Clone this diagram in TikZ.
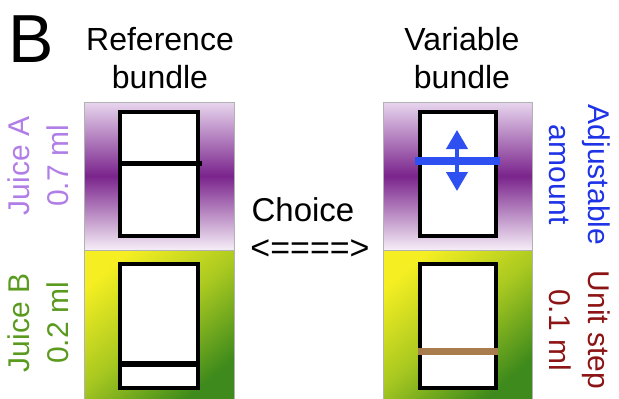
\documentclass[tikz,border=0pt]{standalone}
\usepackage{fontspec}
\setmainfont{Liberation Sans}
\usetikzlibrary{arrows.meta}
\definecolor{purpTop}{HTML}{E8D6EE}
\definecolor{purpMid}{HTML}{7A248C}
\definecolor{purpBot}{HTML}{F6EEF8}
\definecolor{grnTop}{HTML}{F4EE22}
\definecolor{grnMid}{HTML}{A8C820}
\definecolor{grnBot}{HTML}{3E8A1C}
\definecolor{juiceA}{HTML}{B07EE6}
\definecolor{juiceB}{HTML}{5A9A1E}
\definecolor{adjblue}{HTML}{1E32E6}
\definecolor{stepred}{HTML}{8C1414}
\definecolor{linblue}{HTML}{2F50F0}
\definecolor{brownline}{HTML}{A87C4C}
\begin{document}
\begin{tikzpicture}[x=1pt,y=-1pt,
  lbl/.style={inner sep=0pt, align=center, font=\fontsize{32}{38}\selectfont},
  side/.style={inner sep=0pt, align=center, font=\fontsize{30}{39}\selectfont},
  box/.style={draw=black, line width=4pt, fill=white, inner sep=0pt},
  panelframe/.style={draw=gray!60, line width=0.8pt},
  level/.style={line width=5pt, draw=black}]
\useasboundingbox (0,0) rectangle (619,399);
% panels
\path[top color=purpTop, bottom color=purpBot, middle color=purpMid] (84,102) rectangle (234,250);
\path[top color=grnTop, bottom color=grnBot, middle color=grnMid, shading angle=40] (84,250) rectangle (234,399);
\path[top color=purpTop, bottom color=purpBot, middle color=purpMid] (383,102) rectangle (532,250);
\path[top color=grnTop, bottom color=grnBot, middle color=grnMid, shading angle=40] (383,250) rectangle (532,399);
\draw[panelframe] (84,399) -- (84,102) -- (234,102) -- (234,399);
\draw[panelframe] (84,250) -- (234,250);
\draw[panelframe] (383,399) -- (383,102) -- (532,102) -- (532,399);
\draw[panelframe] (383,250) -- (532,250);
% boxes
\node[box, minimum width=78pt, minimum height=124pt] (ra) at (159,174) {};
\node[box, minimum width=78pt, minimum height=124pt] (rb) at (159,326) {};
\node[box, minimum width=76pt, minimum height=124pt] (va) at (458,174) {};
\node[box, minimum width=76pt, minimum height=124pt] (vb) at (458,326) {};
% levels
\draw[level] (ra.west |- 0,163) -- ([xshift=2pt]ra.east |- 0,163);
\draw[level, line width=6pt] (rb.west |- 0,364) -- (rb.east |- 0,364);
\draw[level, draw=linblue, line width=8pt] ([xshift=-3pt]va.west |- 0,161) -- ([xshift=2pt]va.east |- 0,161);
\coordinate (up) at (457,130);
\coordinate (dn) at (457,191);
\draw[draw=linblue, fill=linblue, line width=4pt, {Triangle[width=21pt,length=19pt]}-{Triangle[width=21pt,length=19pt]}] (up) -- (dn);
\draw[level, draw=brownline, line width=7pt] (vb.west |- 0,351) -- (vb.east |- 0,351);
% texts
\node[inner sep=0pt, anchor=base west, font=\fontsize{68}{68}\selectfont] (B) at (8,62) {B};
\node[lbl] (reft) at (160,58) {Reference\\bundle};
\node[lbl] (vart) at (462,58) {Variable\\bundle};
\node[inner sep=0pt, anchor=base, font=\fontsize{33}{33}\selectfont] (choice) at (303,221) {Choice};
\node[inner sep=0pt, font=\fontsize{34}{34}\selectfont] (arr) at (310,250) {<====>};
\node[side, text=juiceA, rotate=90] (ja) at (38,166) {Juice A\\0.7 ml};
\node[side, text=juiceB, rotate=90] (jb) at (38,323) {Juice B\\0.2 ml};
\node[side, text=adjblue, rotate=-90] (adj) at (580,175) {Adjustable\\amount};
\node[side, text=stepred, rotate=-90] (us) at (580,330) {Unit step\\0.1 ml};
\end{tikzpicture}
\end{document}
